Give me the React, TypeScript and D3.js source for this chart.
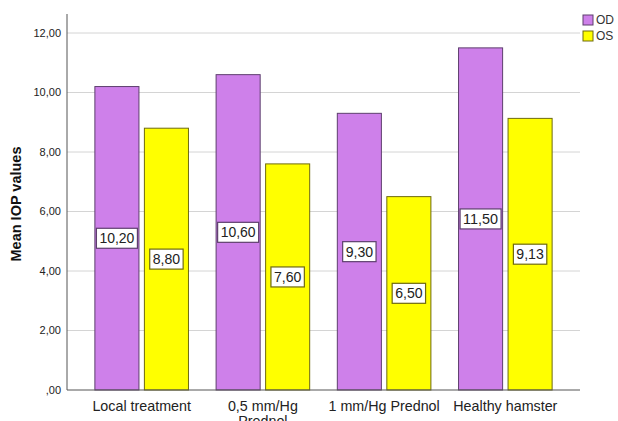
import React from "react";
import * as d3 from "d3";

const categories = ["Local treatment", "0,5 mm/Hg Prednol", "1 mm/Hg Prednol", "Healthy hamster"];
const odValues = [10.2, 10.6, 9.3, 11.5];
const osValues = [8.8, 7.6, 6.5, 9.13];
const seriesNames = ["OD", "OS"];
const yTicks = [0, 2, 4, 6, 8, 10, 12];

const W = 618;
const H = 421;
const left = 67;
const right = 580;
const top = 14;
const bottom = 390;

const fills = ["#CE80EA", "#FFFF00"];
const strokes = ["#5E3F6E", "#6E6A10"];

const fmt = (v: number) => (v === 0 ? ",00" : v.toFixed(2).replace(".", ","));

export default function App() {
  const x = d3.scaleBand<string>().domain(categories).range([left, right]).paddingInner(0.228).paddingOuter(0.23);
  const xi = d3.scaleBand<string>().domain(seriesNames).range([0, x.bandwidth()]).paddingInner(0.11);
  const y = d3.scaleLinear().domain([0, 12]).range([bottom, 33]);
  const data = [odValues, osValues];

  const wrapLabel = (s: string) => (s === "0,5 mm/Hg Prednol" ? ["0,5 mm/Hg", "Prednol"] : [s]);

  return (
    <svg width={W} height={H} style={{ position: "absolute", left: 0, top: 0, background: "#fff" }} fontFamily="Liberation Sans, Arial, sans-serif">
      {yTicks.filter((t) => t > 0).map((t) => (
        <line key={t} x1={left} x2={right} y1={y(t)} y2={y(t)} stroke="#d4d4d4" strokeWidth={1} />
      ))}
      {yTicks.map((t) => (
        <text key={"l" + t} x={left - 6} y={y(t)} dy="0.35em" textAnchor="end" fontSize={11} fill="#222">
          {fmt(t)}
        </text>
      ))}
      {categories.map((c, i) =>
        seriesNames.map((s, j) => {
          const v = data[j][i];
          const bx = (x(c) as number) + (xi(s) as number);
          const bw = xi.bandwidth();
          return (
            <rect key={c + s} x={bx} y={y(v)} width={bw} height={bottom - y(v)} fill={fills[j]} stroke={strokes[j]} strokeWidth={1} />
          );
        })
      )}
      {categories.map((c, i) =>
        seriesNames.map((s, j) => {
          const v = data[j][i];
          const bx = (x(c) as number) + (xi(s) as number);
          const bw = xi.bandwidth();
          const cx = bx + bw / 2;
          const cy = (y(v) + bottom) / 2;
          const label = fmt(v);
          const lw = label.length * 7.6 + 3;
          return (
            <g key={"lab" + c + s}>
              <rect x={cx - lw / 2} y={cy - 10} width={lw} height={20} fill="#fff" stroke={strokes[j]} strokeWidth={1.2} />
              <text x={cx} y={cy} dy="0.36em" textAnchor="middle" fontSize={14} fill="#222" textLength={lw - 6} lengthAdjust="spacingAndGlyphs">
                {label}
              </text>
            </g>
          );
        })
      )}
      <line x1={left} x2={left} y1={top} y2={bottom} stroke="#555" strokeWidth={1} />
      <line x1={left} x2={right} y1={bottom} y2={bottom} stroke="#555" strokeWidth={1} />
      {categories.map((c) => {
        const lines = wrapLabel(c);
        const cx = (x(c) as number) + x.bandwidth() / 2;
        return (
          <text key={"c" + c} x={cx} y={411} textAnchor="middle" fontSize={14.3} fill="#222">
            {lines.map((ln, k) => (
              <tspan key={k} x={cx} dy={k === 0 ? 0 : 15}>
                {ln}
              </tspan>
            ))}
          </text>
        );
      })}
      <text transform={`translate(21, ${(top + bottom) / 2 + 2}) rotate(-90)`} textAnchor="middle" fontSize={14.5} fontWeight="bold" fill="#111">
        Mean IOP values
      </text>
      {seriesNames.map((s, j) => (
        <g key={"leg" + s}>
          <rect x={583} y={15 + j * 16} width={10} height={10} fill={fills[j]} stroke={strokes[j]} strokeWidth={1} />
          <text x={596} y={20 + j * 16} dy="0.35em" fontSize={12} fill="#333">
            {s}
          </text>
        </g>
      ))}
    </svg>
  );
}
